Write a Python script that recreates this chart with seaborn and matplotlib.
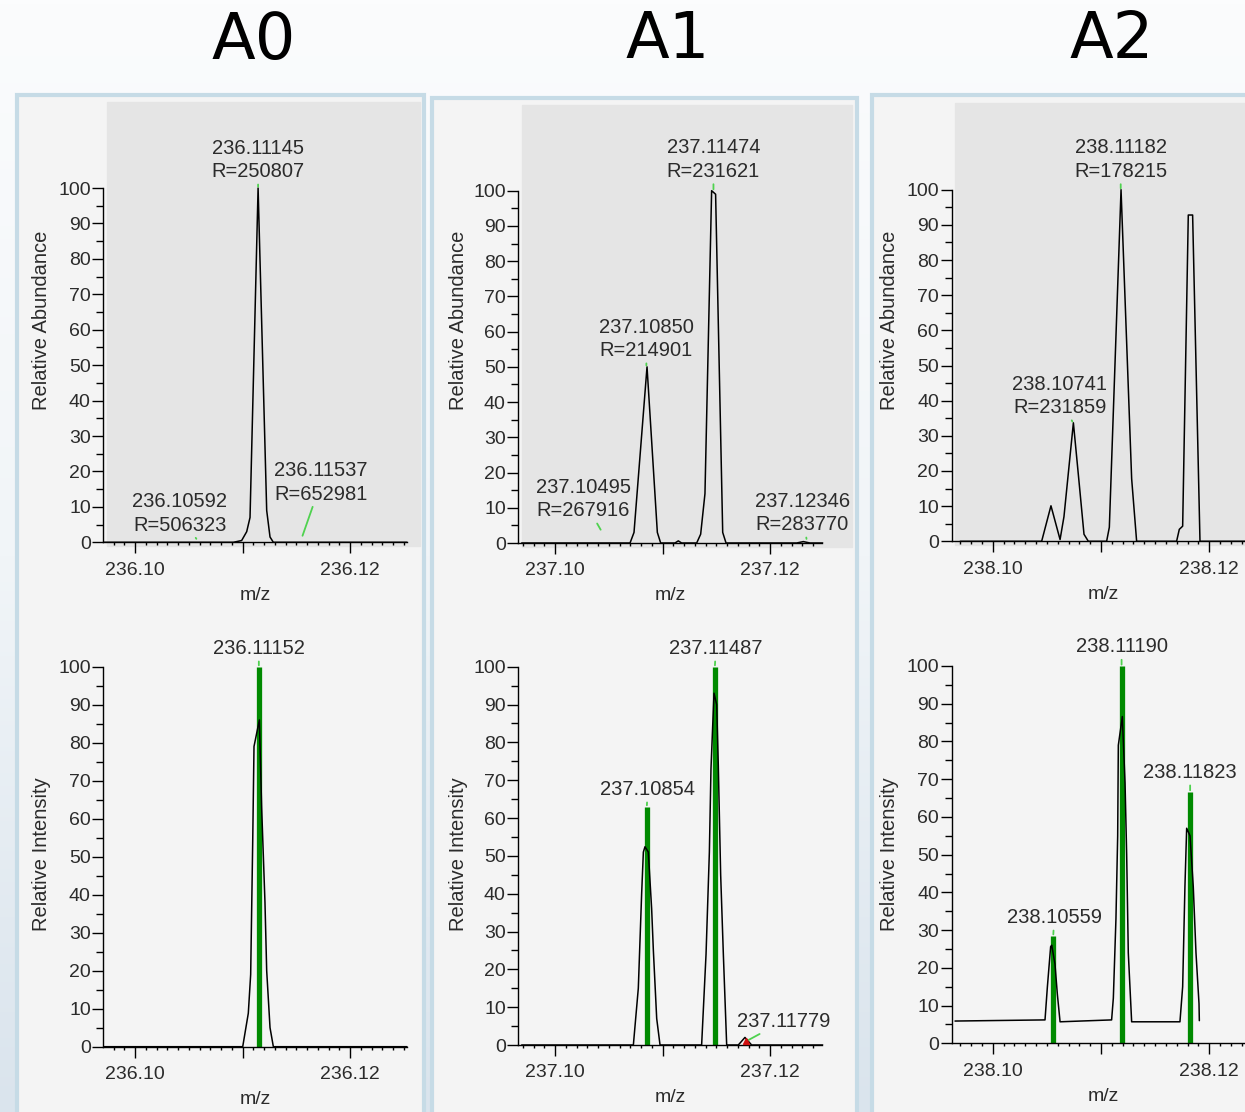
import numpy as np
import matplotlib.pyplot as plt
import seaborn as sns
from matplotlib.patches import Rectangle
from matplotlib.ticker import FixedLocator, FixedFormatter
from matplotlib.colors import LinearSegmentedColormap

sns.set_theme(style="white")
plt.rcParams["font.family"] = ["Liberation Sans", "DejaVu Sans"]

W, H = 1245, 1112

# ==============================
# data
# ==============================
panel_titles = ["A0", "A1", "A2"]

# measured profile spectra (top row)
a0_top_mz = [236.0970, 236.10915, 236.10992, 236.11039, 236.11070, 236.11145,
             236.11225, 236.11256, 236.11287, 236.1253]
a0_top_ab = [0, 0, 0.5, 3, 7, 100, 9, 1.5, 0, 0]

a1_top_mz = [237.0969, 237.10698, 237.10735, 237.10856, 237.10952, 237.10983,
             237.11116, 237.11147, 237.11178, 237.11318, 237.11355, 237.11395,
             237.11457, 237.11494, 237.11560, 237.11591, 237.12248, 237.12310,
             237.12372, 237.1249]
a1_top_ab = [0, 0, 3, 50, 3, 0, 0, 0.6, 0, 0, 2.5, 14, 100, 99, 3, 0, 0, 0.4, 0, 0]

a2_top_mz = [238.0970, 238.10452, 238.10538, 238.10622, 238.10658, 238.10745,
             238.10800, 238.10843, 238.10883, 238.11052, 238.11077, 238.11185,
             238.11283, 238.11329, 238.11698, 238.11723, 238.11754, 238.11806,
             238.11846, 238.11914, 238.1235]
a2_top_ab = [0, 0, 10.1, 0.5, 7, 33.7, 16, 2, 0, 0, 4, 100, 17.8, 0, 0, 3.4, 4.3,
             92.8, 92.8, 0, 0]

# simulated profiles (bottom row)
a0_sim_mz = [236.0970, 236.11002, 236.11054, 236.11076, 236.11095, 236.11107,
             236.11157, 236.11178, 236.11209, 236.11225, 236.11256, 236.11287,
             236.1253]
a0_sim_ab = [0, 0, 8.8, 19, 54, 79, 86, 63, 38, 20, 5, 0, 0]

a1_sim_mz = [237.0969, 237.10729, 237.10775, 237.10806, 237.10822, 237.10837,
             237.10868, 237.10899, 237.10915, 237.10946, 237.10977, 237.11364,
             237.11405, 237.11436, 237.11451, 237.11479, 237.11504, 237.11519,
             237.11541, 237.11566, 237.11597, 237.11705, 237.11767, 237.11829,
             237.1249]
a1_sim_ab = [0, 0, 15, 40, 51, 52.4, 51, 36, 25, 7, 0, 0, 24, 51, 73, 93, 90, 74,
             45, 24, 0, 0, 2, 0, 0]

a2_sim_mz = [238.09652, 238.10483, 238.10505, 238.10535, 238.10545, 238.10575,
             238.10597, 238.10622, 238.11098, 238.11114, 238.11138, 238.11154,
             238.11160, 238.11197, 238.11222, 238.11237, 238.11252, 238.11283,
             238.11729, 238.11754, 238.11775, 238.11791, 238.11822, 238.11852,
             238.11877, 238.11905, 238.11908]
a2_sim_ab = [5.9, 6.2, 15, 25.6, 26, 21, 13, 5.7, 6.2, 12, 33, 55, 79, 86.6, 69, 50,
             24, 5.7, 5.7, 15, 41.5, 57, 55, 41.5, 24, 10.5, 6]

# theoretical sticks
a0_stick_mz = [236.11152]
a0_stick_ab = [100]
a1_stick_mz = [237.10854, 237.11487]
a1_stick_ab = [63, 100]
a2_stick_mz = [238.10559, 238.11190, 238.11823]
a2_stick_ab = [28.5, 100, 66.7]

# peak labels
a0_top_lab_mz = [236.11145, 236.10592, 236.11537]
a0_top_lab_ab = [100, 0, 0]
a0_top_lab_txt = ["236.11145\nR=250807", "236.10592\nR=506323", "236.11537\nR=652981"]
a1_top_lab_mz = [237.11474, 237.10850, 237.10495, 237.12346]
a1_top_lab_ab = [100, 50, 0, 0]
a1_top_lab_txt = ["237.11474\nR=231621", "237.10850\nR=214901",
                  "237.10495\nR=267916", "237.12346\nR=283770"]
a2_top_lab_mz = [238.11182, 238.10741]
a2_top_lab_ab = [100, 33.7]
a2_top_lab_txt = ["238.11182\nR=178215", "238.10741\nR=231859"]

a0_sim_lab_mz = [236.11152]
a0_sim_lab_ab = [100]
a0_sim_lab_txt = ["236.11152"]
a1_sim_lab_mz = [237.11487, 237.10854, 237.11779]
a1_sim_lab_ab = [100, 63, 1]
a1_sim_lab_txt = ["237.11487", "237.10854", "237.11779"]
a2_sim_lab_mz = [238.11190, 238.10559, 238.11823]
a2_sim_lab_ab = [100, 28.5, 66.7]
a2_sim_lab_txt = ["238.11190", "238.10559", "238.11823"]

# small red marker on the simulated A1 trace
a1_mark_mz = [237.11779]
a1_mark_ab = [1]

# tick labels
a0_xticks = [236.10, 236.11, 236.12]
a1_xticks = [237.10, 237.11, 237.12]
a2_xticks = [238.10, 238.11, 238.12]
a0_xlabels = ["236.10", "", "236.12"]
a1_xlabels = ["237.10", "", "237.12"]
a2_xlabels = ["238.10", "", "238.12"]
yticks = list(range(0, 101, 10))

# ==============================
# layout (pixels of the screenshot)
# ==============================
GREY = "#e5e5e5"
PANEL = "#f4f4f4"
EDGE = "#c6dbe6"
GREEN = "#008a00"
LEAD = "#4fd24f"
TXT = "#2b2b2b"

# (px of first/last major tick, spine x, right px, axis end px)
xgeo = [(135, 350, 103.3, 420, 407),
        (555, 770, 518.3, 852, 822),
        (992.7, 1209.3, 951.7, 1245, 1260)]
# (zero px, hundred px, top px)
ygeo_top = [(542.3, 188, 102), (543, 190.7, 105), (541.3, 189.7, 103)]
ygeo_bot = [(1046.7, 666.7, 640), (1045, 666.7, 640), (1043.3, 666, 640)]
title_x = [254, 668, 1112]
ylab_x = [51, 468, 899]
frames = [(17, 95, 424, 1125), (432, 98, 857, 1125), (872, 95, 1260, 1125)]

top_offsets = [[(0, 28), (-19, 29), (21, 60)],
               [(0, 31), (0, 28), (-25, 44), (-5, 30)],
               [(0, 30), (-13, 27)]]
top_shrink = [[1, 3, 5], [1, 1, 11, 3], [1, 1]]
bot_offsets = [[(0, 18)], [(1, 18), (1, 17), (37, 20)], [(0, 19), (1, 18), (0, 19)]]
bot_shrink = [[1], [1, 1, 2], [1, 1, 1]]

fig = plt.figure(figsize=(W / 100, H / 100), dpi=100)

# background gradient
bg = fig.add_axes([0, 0, 1, 1], zorder=-10)
cmap = LinearSegmentedColormap.from_list("bg", ["#fbfcfd", "#f1f5f8", "#dae4ed"])
bg.imshow(np.linspace(0, 1, 256).reshape(-1, 1), cmap=cmap, aspect="auto",
          extent=[0, 1, 0, 1])
bg.set_xlim(0, 1)
bg.set_ylim(0, 1)
bg.axis("off")

for (x0, y0, x1, y1) in frames:
    fig.patches.append(Rectangle((x0 / W, 1 - y1 / H), (x1 - x0) / W, (y1 - y0) / H,
                                 transform=fig.transFigure, facecolor=PANEL,
                                 edgecolor=EDGE, lw=3, zorder=-5))

for i, t in enumerate(panel_titles):
    fig.text(title_x[i] / W, 1 - 40.5 / H, t, ha="center", va="center",
             fontsize=46, family="DejaVu Sans", color="black")


def make_axes(i, ygeo, xticks, xlabels, grey):
    lp, rp, left, right, aend = xgeo[i]
    y0p, y100p, topp = ygeo
    sx = (rp - lp) / (xticks[2] - xticks[0])
    xmin = xticks[0] - (lp - left) / sx
    xmax = xticks[0] + (right - lp) / sx
    xend = xticks[0] + (aend - lp) / sx
    sy = (y0p - y100p) / 100
    ymax = (y0p - topp) / sy
    ax = fig.add_axes([left / W, 1 - y0p / H, (right - left) / W, (y0p - topp) / H])
    ax.set_facecolor("none")
    if grey:
        f = 3.5 / (right - left)
        ax.add_patch(Rectangle((f, -4 / (y0p - topp)), 1 - f, 1 + 4 / (y0p - topp),
                               transform=ax.transAxes, color=GREY, zorder=0,
                               clip_on=False))
    ax.set_xlim(xmin, xmax)
    ax.set_ylim(0, ymax)
    for s in ["top", "right"]:
        ax.spines[s].set_visible(False)
    for s in ["left", "bottom"]:
        ax.spines[s].set_color("black")
        ax.spines[s].set_linewidth(1.0)
    ax.spines["left"].set_bounds(0, 100)
    ax.spines["bottom"].set_bounds(xmin, min(xend, xmax + 1))
    ax.yaxis.set_major_locator(FixedLocator(yticks))
    ax.yaxis.set_minor_locator(FixedLocator(list(range(5, 100, 10))))
    ax.set_yticklabels([str(v) for v in yticks])
    ax.xaxis.set_major_locator(FixedLocator(xticks))
    ax.xaxis.set_major_formatter(FixedFormatter(xlabels))
    ax.xaxis.set_minor_locator(FixedLocator(np.arange(xticks[0] - 0.003, xend, 0.001)))
    ax.tick_params(axis="y", which="major", direction="out", length=8, width=1,
                   color="black", labelsize=14, labelcolor=TXT, pad=1, left=True)
    ax.tick_params(axis="y", which="minor", direction="out", length=5, width=1,
                   color="black", left=True)
    ax.tick_params(axis="x", which="major", direction="out", length=8, width=1,
                   color="black", labelsize=14, labelcolor=TXT, pad=6, bottom=True)
    ax.tick_params(axis="x", which="minor", direction="out", length=2.5, width=1,
                   color="black", bottom=True)
    ax.grid(False)
    ax.annotate("m/z", xy=((xmin + xend) / 2 if xend < xmax else
                           xticks[0] + (1103 - lp) / sx, 0),
                xycoords=("data", "axes fraction"), xytext=(0, -53),
                textcoords="offset pixels", ha="center", va="center",
                fontsize=14, color=TXT, annotation_clip=False)
    return ax, y0p, topp


def label_peaks(ax, mzs, abs_, txts, offsets, shrinks):
    for m, a, t, (dx, dy), sb in zip(mzs, abs_, txts, offsets, shrinks):
        ax.annotate(t, xy=(m, a), xytext=(dx, dy), textcoords="offset pixels",
                    ha="center", va="center", fontsize=14.5, color=TXT,
                    linespacing=1.3, annotation_clip=False,
                    arrowprops=dict(arrowstyle="-", color=LEAD, lw=1.3,
                                    shrinkA=0, shrinkB=sb))


tops = [(a0_top_mz, a0_top_ab, a0_top_lab_mz, a0_top_lab_ab, a0_top_lab_txt),
        (a1_top_mz, a1_top_ab, a1_top_lab_mz, a1_top_lab_ab, a1_top_lab_txt),
        (a2_top_mz, a2_top_ab, a2_top_lab_mz, a2_top_lab_ab, a2_top_lab_txt)]
bots = [(a0_sim_mz, a0_sim_ab, a0_stick_mz, a0_stick_ab,
         a0_sim_lab_mz, a0_sim_lab_ab, a0_sim_lab_txt),
        (a1_sim_mz, a1_sim_ab, a1_stick_mz, a1_stick_ab,
         a1_sim_lab_mz, a1_sim_lab_ab, a1_sim_lab_txt),
        (a2_sim_mz, a2_sim_ab, a2_stick_mz, a2_stick_ab,
         a2_sim_lab_mz, a2_sim_lab_ab, a2_sim_lab_txt)]
xt = [a0_xticks, a1_xticks, a2_xticks]
xl = [a0_xlabels, a1_xlabels, a2_xlabels]

for i in range(3):
    lp, rp, left, right, aend = xgeo[i]

    # ---- measured spectrum ----
    mz, ab, lmz, lab, ltxt = tops[i]
    ax, y0p, topp = make_axes(i, ygeo_top[i], xt[i], xl[i], grey=True)
    sns.lineplot(x=mz, y=ab, ax=ax, color="black", lw=1.1, estimator=None,
                 sort=False, zorder=3)
    label_peaks(ax, lmz, lab, ltxt, top_offsets[i], top_shrink[i])
    ax.set_ylabel("Relative Abundance", fontsize=14.5, color=TXT)
    ax.yaxis.set_label_coords((ylab_x[i] - left) / (right - left),
                              (y0p - 320) / (y0p - topp))

    # ---- simulated spectrum ----
    smz, sab, kmz, kab, lmz, lab, ltxt = bots[i]
    ax, y0p, topp = make_axes(i, ygeo_bot[i], xt[i], xl[i], grey=False)
    ax.vlines(kmz, 0, kab, color=GREEN, lw=3.8, zorder=2)
    sns.lineplot(x=smz, y=sab, ax=ax, color="black", lw=1.1, estimator=None,
                 sort=False, zorder=3)
    if i == 1:
        ax.plot(a1_mark_mz, a1_mark_ab, marker="^", ms=5, color="#d01010",
                ls="none", zorder=4)
    label_peaks(ax, lmz, lab, ltxt, bot_offsets[i], bot_shrink[i])
    ax.set_ylabel("Relative Intensity", fontsize=14.5, color=TXT)
    ax.yaxis.set_label_coords((ylab_x[i] - left) / (right - left),
                              (y0p - 854) / (y0p - topp))

fig.savefig("out.png", dpi=100)
